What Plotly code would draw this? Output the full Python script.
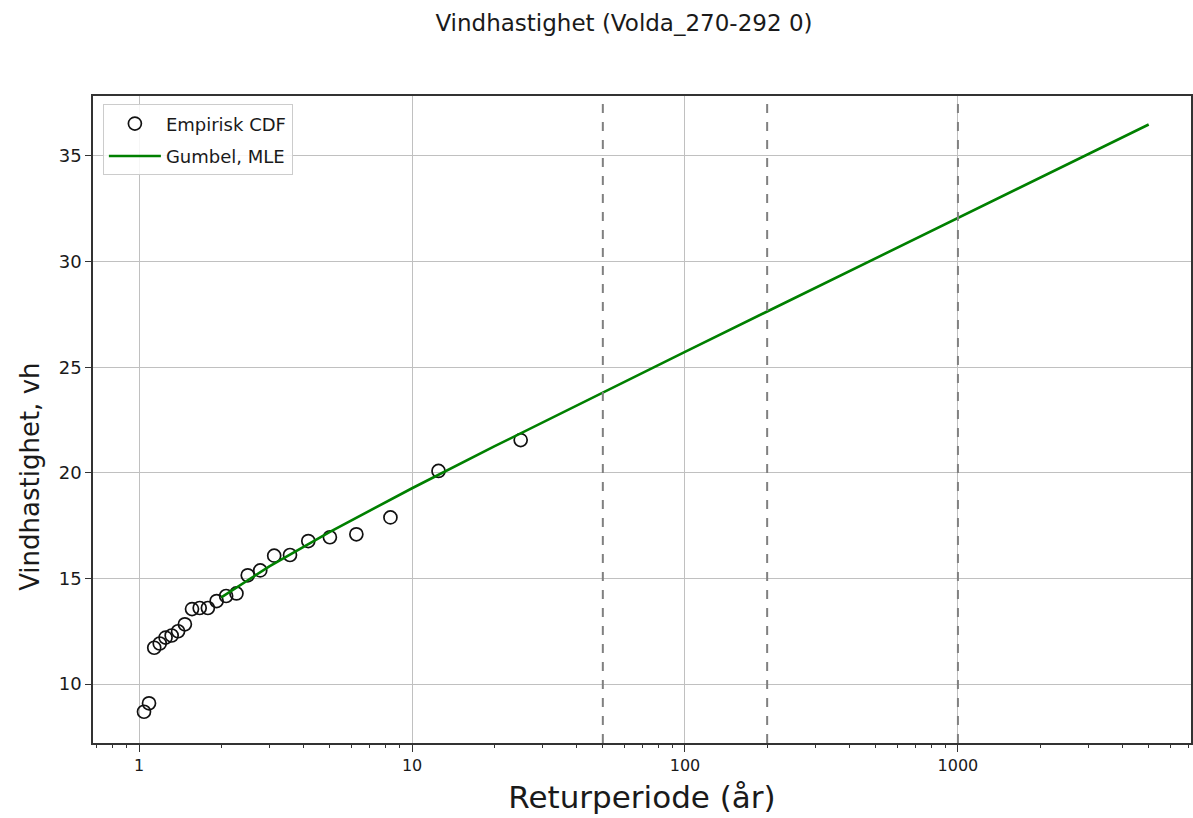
import plotly.graph_objects as go

# Empirical data (return period in years, wind speed)
emp_T = [25.0, 12.5, 8.333, 6.25, 5.0, 4.167, 3.571, 3.125, 2.778, 2.5, 2.273, 2.083,
         1.923, 1.786, 1.667, 1.5625, 1.471, 1.389, 1.316, 1.25, 1.19, 1.136, 1.087, 1.042]
emp_v = [21.55, 20.09, 17.89, 17.09, 16.95, 16.77, 16.11, 16.08, 15.38, 15.15, 14.29, 14.17,
         13.93, 13.6, 13.6, 13.55, 12.83, 12.5, 12.3, 12.2, 11.92, 11.72, 9.09, 8.69]

# Gumbel (MLE) curve
gum_T = [2, 3, 5, 10, 20, 50, 100, 200, 500, 1000, 2000, 5000]
gum_v = [14.10, 15.57, 17.21, 19.27, 21.25, 23.81, 25.73, 27.64, 30.16, 32.07, 33.98, 36.49]

# Reference return periods (dashed lines)
ref_T = [50, 200, 1000]

x_ticks = [1, 10, 100, 1000]
x_ticklabels = ["1", "10", "100", "1000"]
y_ticks = [10, 15, 20, 25, 30, 35]
minor_x_ticks = [m * 10 ** k for k in range(-1, 4) for m in range(2, 10)]

FONT = "DejaVu Sans"
TXT = "#1a1a1a"

fig = go.Figure()
fig.add_trace(go.Scatter(
    x=emp_T, y=emp_v, mode="markers", name="Empirisk CDF", legendgroup="a",
    marker=dict(symbol="circle-open", size=13, color="#111", line=dict(width=1.7, color="#111")),
))
fig.add_trace(go.Scatter(
    x=gum_T, y=gum_v, mode="lines", name="Gumbel, MLE", legendgroup="b",
    line=dict(color="green", width=2.6),
))

for t in ref_T:
    fig.add_shape(type="line", xref="x", yref="paper", x0=t, x1=t, y0=0, y1=1,
                  line=dict(color="#808080", width=2, dash="dash"))

fig.add_annotation(text="Vindhastighet, vh", xref="paper", yref="paper",
                   x=-0.057, y=0.412, xanchor="center", yanchor="middle",
                   textangle=-90, showarrow=False,
                   font=dict(size=26, color=TXT, family=FONT))

fig.update_layout(
    width=1193, height=818,
    margin=dict(l=93, r=0, t=96, b=75),
    paper_bgcolor="white", plot_bgcolor="white",
    font=dict(family=FONT, color=TXT, size=16),
    title=dict(text="Vindhastighet (Volda_270-292 0)", x=0.523, xanchor="center",
               y=0.972, yanchor="middle", font=dict(size=23, color=TXT)),
    showlegend=True,
    legend=dict(x=0.009, y=0.987, xanchor="left", yanchor="top",
                bgcolor="rgba(255,255,255,0.85)", bordercolor="#cccccc", borderwidth=1,
                tracegroupgap=6, itemwidth=52,
                font=dict(size=18, color=TXT)),
)

fig.update_xaxes(
    type="log", range=[-0.169, 3.854],
    tickvals=x_ticks, ticktext=x_ticklabels,
    showgrid=True, gridcolor="#c0c0c0", gridwidth=1.3,
    showline=True, linecolor="#333", linewidth=1.5, mirror=True,
    ticks="outside", ticklen=7, tickcolor="#333",
    minor=dict(tickvals=minor_x_ticks, ticks="outside", ticklen=3, tickcolor="#333", showgrid=False),
    tickfont=dict(size=16, color=TXT),
    title=dict(text="Returperiode (år)", font=dict(size=31, color=TXT), standoff=12),
    zeroline=False,
)
fig.update_yaxes(
    range=[7.21, 37.84], tickvals=y_ticks,
    showgrid=True, gridcolor="#c0c0c0", gridwidth=1.3,
    showline=True, linecolor="#333", linewidth=1.5, mirror=True,
    ticks="outside", ticklen=6, tickcolor="#333",
    tickfont=dict(size=18, color=TXT),
    zeroline=False,
)

fig.write_html("out.html")
